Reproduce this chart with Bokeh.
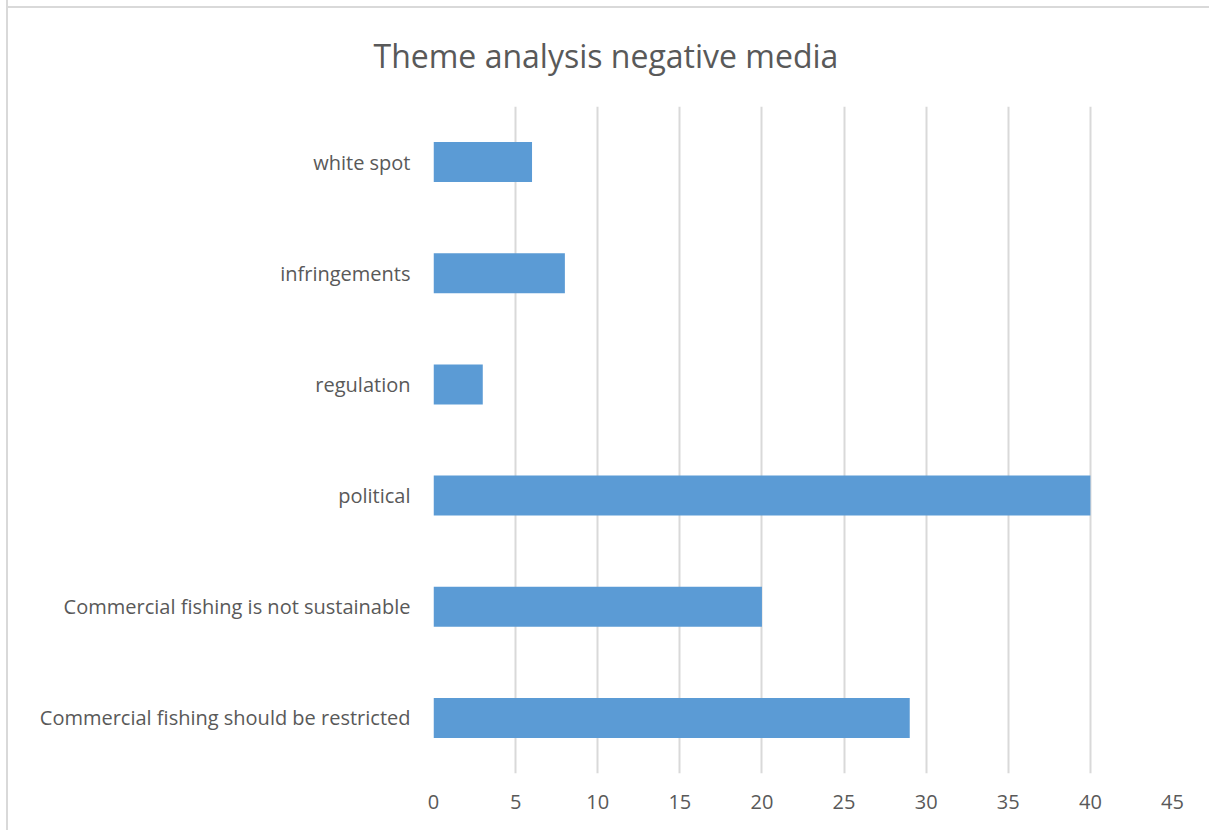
from bokeh.plotting import figure
from bokeh.models import FactorRange, Range1d, FixedTicker
from bokeh.embed import file_html
from bokeh.resources import INLINE

categories = ["Commercial fishing should be restricted",
              "Commercial fishing is not sustainable",
              "political", "regulation", "infringements", "white spot"]
values = [29, 20, 40, 3, 8, 6]
x_ticks = [0, 5, 10, 15, 20, 25, 30, 35, 40, 45]
title_text = "Theme analysis negative media"

FONT = "Open Sans"
TXT = "#595959"
GRID = "#d9d9d9"

p = figure(width=1203, height=830, output_backend="svg", toolbar_location=None,
           y_range=FactorRange(factors=categories), x_range=Range1d(0, 45),
           min_border_left=425, min_border_right=39, min_border_top=106,
           min_border_bottom=57, margin=(0, 0, 0, 6), title=title_text)
p.styles = {"border-left": f"2px solid {GRID}",
            "background": f"linear-gradient({GRID}, {GRID}) 0px 6px / 100% 2px no-repeat"}
p.outline_line_color = None
p.background_fill_color = "white"
p.border_fill_color = None

p.title.align = "left"
p.title.offset = -60
p.title.standoff = 60
p.title.text_font = FONT
p.title.text_font_size = "32px"
p.title.text_font_style = "normal"
p.title.text_color = TXT

p.hbar(y=categories, right=values, left=0, height=0.36, color="#5b9bd5", line_color=None)

p.xaxis.ticker = FixedTicker(ticks=x_ticks)
p.xgrid.ticker = FixedTicker(ticks=x_ticks)
p.xgrid.grid_line_color = GRID
p.xgrid.grid_line_width = 2
p.ygrid.grid_line_color = None
for ax in (p.xaxis, p.yaxis):
    ax.axis_line_color = None
    ax.major_tick_line_color = None
    ax.minor_tick_line_color = None
    ax.major_label_text_font = FONT
    ax.major_label_text_color = TXT
    ax.major_label_text_font_size = "20px"
p.xaxis.major_label_standoff = 15
p.yaxis.major_label_standoff = 17

open("out.html", "w").write(file_html(p, INLINE))
